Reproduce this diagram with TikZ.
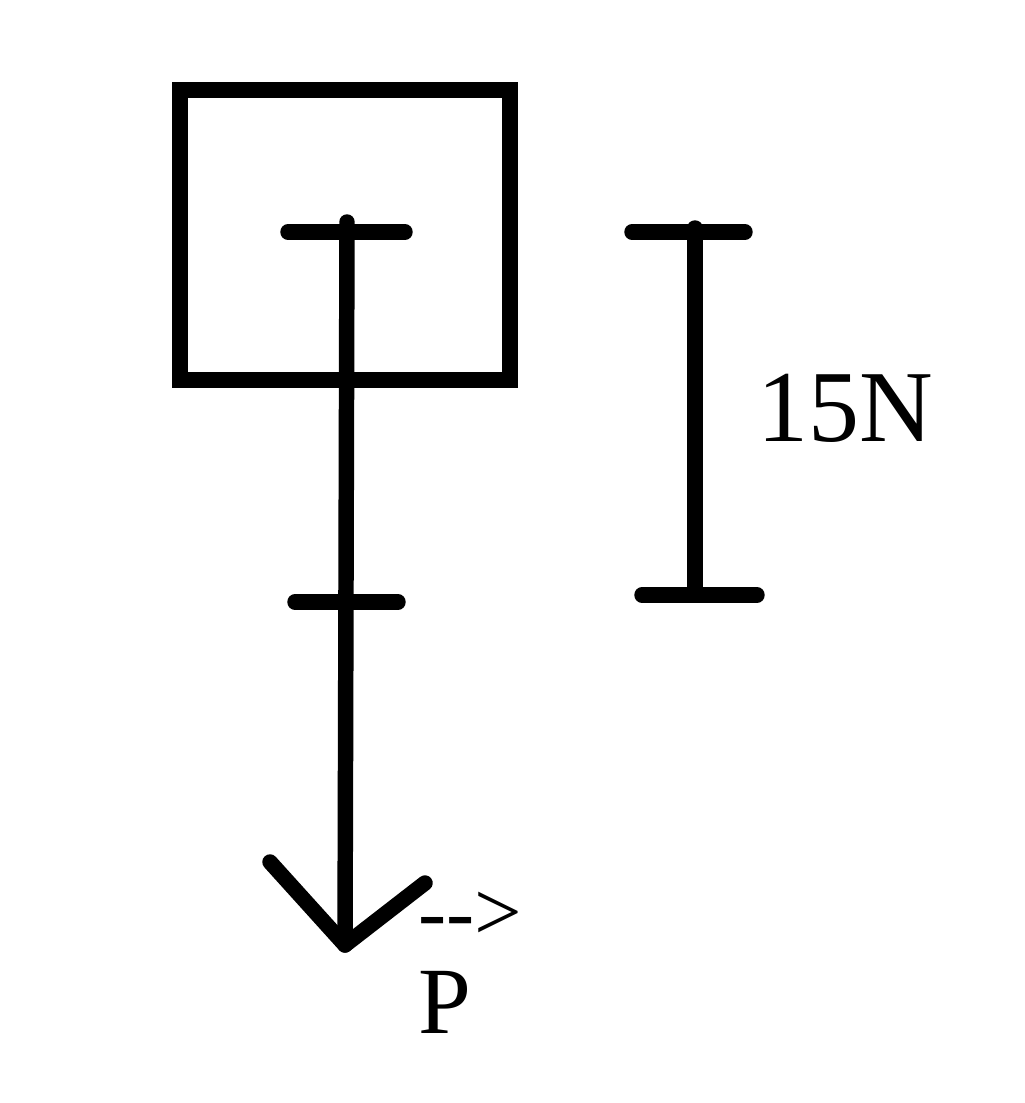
\documentclass[tikz,border=0pt]{standalone}
\usepackage{fontspec}
\setmainfont{Liberation Serif}
\begin{document}
\begin{tikzpicture}[x=0.01cm,y=-0.01cm,
  thick line/.style={line width=4.4pt,line cap=round,line join=round},
  lbl/.style={inner sep=0pt,font=\fontsize{30}{32}\selectfont}]
\useasboundingbox (0,0) rectangle (1024,1103);
\draw[line width=4.4pt] (180,90) rectangle (510,380);
\coordinate (top) at (347,222);
\coordinate (tip) at (345,945);
\coordinate (hl) at (270,862);
\coordinate (hr) at (425,883);
\draw[thick line] (top) -- (tip);
\draw[thick line] (hl) -- (tip) -- (hr);
\coordinate (t1a) at (288,232); \coordinate (t1b) at (405,232);
\draw[thick line] (t1a) -- (t1b);
\coordinate (t2a) at (295,602); \coordinate (t2b) at (398,602);
\draw[thick line] (t2a) -- (t2b);
\coordinate (ra) at (695,228); \coordinate (rb) at (695,595);
\draw[thick line] (ra) -- (rb);
\coordinate (r1a) at (632,232); \coordinate (r1b) at (745,232);
\draw[thick line] (r1a) -- (r1b);
\coordinate (r2a) at (642,595); \coordinate (r2b) at (757,595);
\draw[thick line] (r2a) -- (r2b);
\node[lbl,font=\fontsize{29}{31}\selectfont] (n15) at (845,408) {15N};
\node[inner sep=0pt,font=\fontsize{24}{26}\selectfont] (arr) at (470,916) {-{}->};
\node[lbl,font=\fontsize{27}{29}\selectfont] (P) at (445,1002) {P};
\end{tikzpicture}
\end{document}
